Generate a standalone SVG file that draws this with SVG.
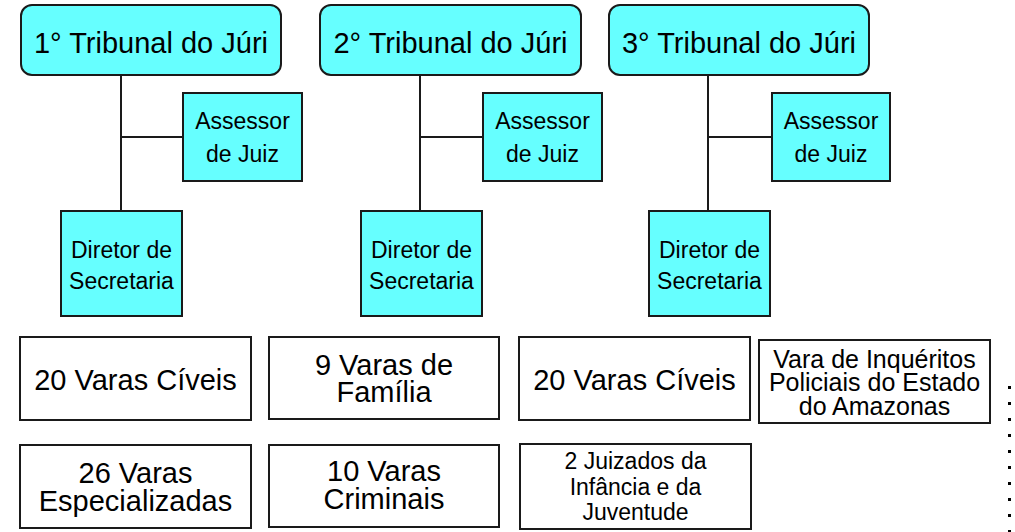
<svg xmlns="http://www.w3.org/2000/svg" width="1015" height="532" viewBox="0 0 1015 532">
<style>
.t{font-family:"Liberation Sans",Arial,sans-serif;fill:#000;text-anchor:middle}
.cy{fill:#66FFFF;stroke:#1a1a1a;stroke-width:2}
.wh{fill:#fff;stroke:#1a1a1a;stroke-width:2}
.ln{stroke:#1a1a1a;stroke-width:2;fill:none}
.f29{font-size:29px}
.f23{font-size:23px}
.f25{font-size:25px}
</style>
<rect width="1015" height="532" fill="#fff"/>
<g id="connectors">
<path class="ln" d="M121 75V211M121 137H183"/>
<path class="ln" d="M420 75V211M420 137H483"/>
<path class="ln" d="M708 75V211M708 137H772"/>
</g>
<g id="trib1"><rect class="cy" x="21" y="5" width="260" height="70" rx="11"/><text class="t f29" x="151" y="53">1° Tribunal do Júri</text></g>
<g id="trib2"><rect class="cy" x="320" y="5" width="261" height="70" rx="11"/><text class="t f29" x="450.5" y="53">2° Tribunal do Júri</text></g>
<g id="trib3"><rect class="cy" x="609" y="5" width="260" height="70" rx="11"/><text class="t f29" x="739" y="53">3° Tribunal do Júri</text></g>
<g id="assessor1"><rect class="cy" x="183" y="93" width="119" height="88"/><text class="t f23" x="242.5" y="129">Assessor</text><text class="t f23" x="242.5" y="162">de Juiz</text></g>
<g id="assessor2"><rect class="cy" x="483" y="93" width="119" height="88"/><text class="t f23" x="542.5" y="129">Assessor</text><text class="t f23" x="542.5" y="162">de Juiz</text></g>
<g id="assessor3"><rect class="cy" x="772" y="93" width="118" height="88"/><text class="t f23" x="831" y="129">Assessor</text><text class="t f23" x="831" y="162">de Juiz</text></g>
<g id="diretor1"><rect class="cy" x="61" y="211" width="121" height="105"/><text class="t f23" x="121.5" y="258">Diretor de</text><text class="t f23" x="121.5" y="289">Secretaria</text></g>
<g id="diretor2"><rect class="cy" x="361" y="211" width="121" height="105"/><text class="t f23" x="421.5" y="258">Diretor de</text><text class="t f23" x="421.5" y="289">Secretaria</text></g>
<g id="diretor3"><rect class="cy" x="649" y="211" width="121" height="105"/><text class="t f23" x="709.5" y="258">Diretor de</text><text class="t f23" x="709.5" y="289">Secretaria</text></g>
<g id="civeis1"><rect class="wh" x="20" y="337" width="231" height="83"/><text class="t f29" x="135.5" y="390">20 Varas Cíveis</text></g>
<g id="familia"><rect class="wh" x="269" y="337" width="230" height="82"/><text class="t f29" x="384" y="375">9 Varas de</text><text class="t f29" x="384" y="402">Família</text></g>
<g id="civeis2"><rect class="wh" x="519" y="337" width="231" height="83"/><text class="t f29" x="634.5" y="390">20 Varas Cíveis</text></g>
<g id="inqueritos"><rect class="wh" x="759" y="340" width="231" height="83"/><text class="t f25" x="874.5" y="367.5">Vara de Inquéritos</text><text class="t f25" x="874.5" y="391">Policiais do Estado</text><text class="t f25" x="874.5" y="415">do Amazonas</text></g>
<g id="especializadas"><rect class="wh" x="20" y="445" width="231" height="83"/><text class="t f29" x="135.5" y="483">26 Varas</text><text class="t f29" x="135.5" y="511">Especializadas</text></g>
<g id="criminais"><rect class="wh" x="269" y="445" width="230" height="82"/><text class="t f29" x="384" y="481">10 Varas</text><text class="t f29" x="384" y="509">Criminais</text></g>
<g id="juizados"><rect class="wh" x="520" y="444" width="231" height="85"/><text class="t f23" x="635.5" y="469">2 Juizados da</text><text class="t f23" x="635.5" y="495">Infância e da</text><text class="t f23" x="635.5" y="520">Juventude</text></g>
<g id="dotted"><line x1="1009.5" y1="386" x2="1009.5" y2="532" stroke="#000" stroke-width="3" stroke-dasharray="3 13"/></g>
</svg>
